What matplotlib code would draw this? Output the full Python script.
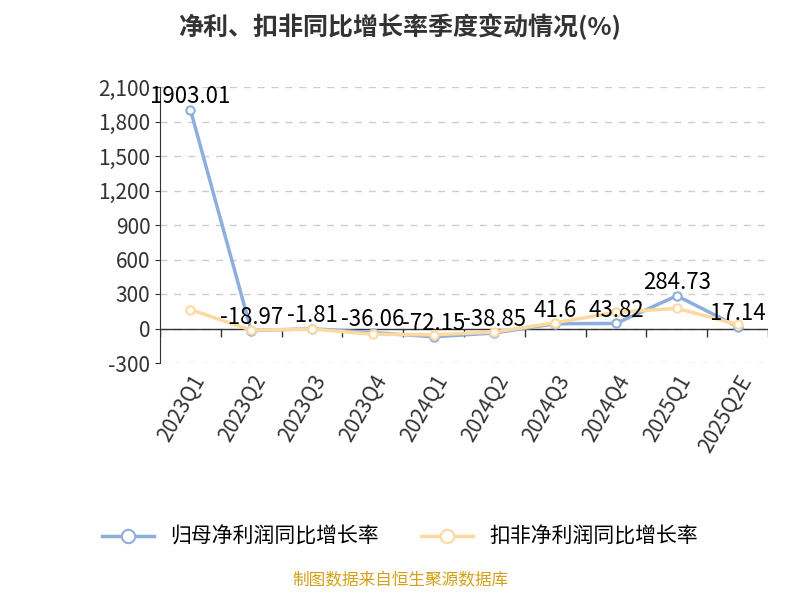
import matplotlib
matplotlib.use("Agg")
import matplotlib.pyplot as plt
from matplotlib.ticker import FuncFormatter
import matplotlib.transforms as mtrans

plt.rcParams['font.family'] = ['Noto Sans CJK SC', 'DejaVu Sans']

quarters = ["2023Q1","2023Q2","2023Q3","2023Q4","2024Q1","2024Q2","2024Q3","2024Q4","2025Q1","2025Q2E"]
net_growth = [1903.01, -18.97, -1.81, -36.06, -72.15, -38.85, 41.6, 43.82, 284.73, 17.14]
deduct_growth = [165, -15, -5, -50, -55, -30, 50, 140, 175, 35]

fig = plt.figure(figsize=(8, 6), dpi=100)
ax = fig.add_axes([0.2, 0.395, 0.76, 0.46])
x = range(len(quarters))
blue = "#8eaedc"; orange = "#fdd9a0"
ax.plot(x, net_growth, color=blue, lw=2.5, marker='o', ms=6, mfc='white', mec=blue, mew=1.5, zorder=3, label="归母净利润同比增长率")
ax.plot(x, deduct_growth, color=orange, lw=2.5, marker='o', ms=6, mfc='white', mec=orange, mew=1.5, zorder=3, label="扣非净利润同比增长率")
for i, v in enumerate(net_growth):
    ax.text(i, v + 15, f"{v:g}", ha='center', va='bottom', fontsize=16, color='black', zorder=5)

ax.set_xlim(-0.5, len(quarters) - 0.5)
ax.set_ylim(-300, 2100)
ax.set_yticks(range(-300, 2101, 300))
ax.yaxis.set_major_formatter(FuncFormatter(lambda v, p: f"{int(v):,}"))
ax.set_xticks(list(x))
ax.set_xticklabels(quarters, rotation=60, ha='right', rotation_mode='anchor')
ax.tick_params(axis='x', length=0, pad=6)
ax.tick_params(axis='both', labelsize=15, colors='#333333')
ax.grid(axis='y', ls=(0, (5, 5)), color='#cccccc', lw=1)
for s in ['top', 'right', 'bottom']:
    ax.spines[s].set_visible(False)
ax.spines['left'].set_color('#333333')
ax.axhline(0, color='#333333', lw=1, zorder=2)
# category boundary tick marks hanging below the zero line
bounds = [i + 0.5 for i in range(-1, len(quarters))]
ax.vlines(bounds, -70, 0, color='#333333', lw=1, zorder=2)
ax.set_axisbelow(True)

fig.text(0.5, 0.955, "净利、扣非同比增长率季度变动情况(%)", ha='center', va='center', fontsize=18, fontweight='bold', color='#333333')
fig.legend(loc='center', bbox_to_anchor=(0.5, 0.105), ncol=2, frameon=False, fontsize=15, handlelength=2.5, columnspacing=2, markerscale=1.6)
fig.text(0.5, 0.018, "制图数据来自恒生聚源数据库", ha='center', va='bottom', fontsize=12, color='#d4a017')
fig.savefig("out.png", dpi=100)
